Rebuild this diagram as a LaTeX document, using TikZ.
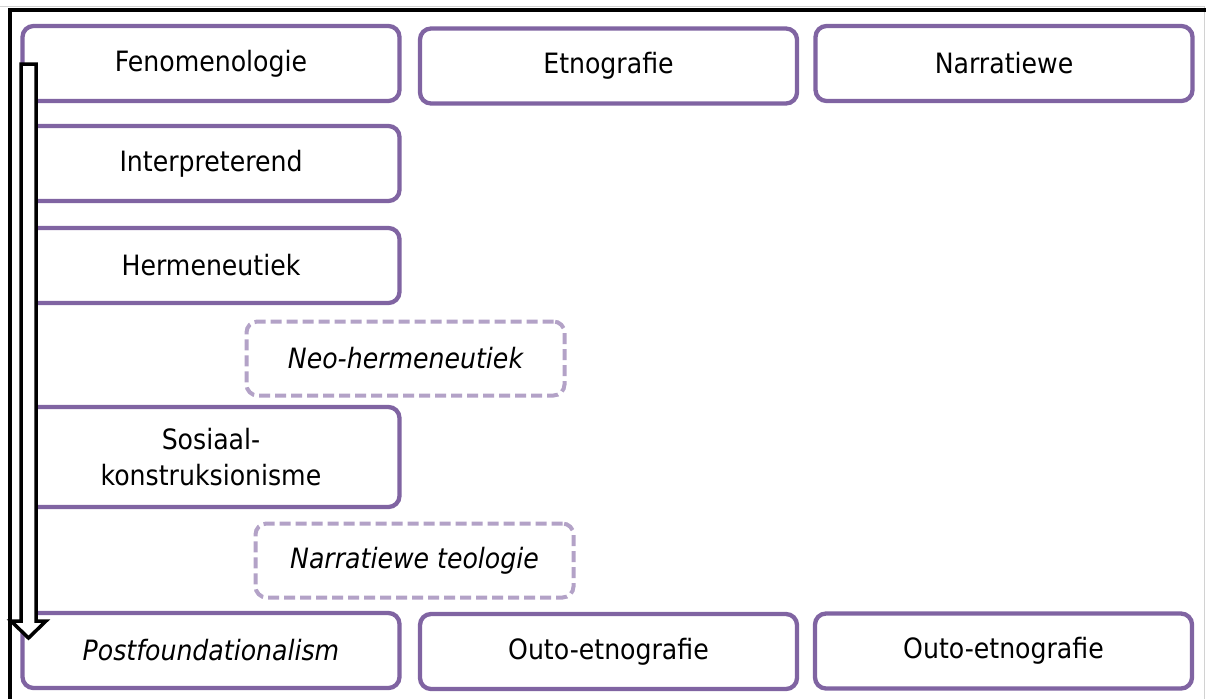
\documentclass[tikz,border=0pt]{standalone}
\usepackage{fontspec}
\setmainfont{DejaVu Sans Condensed}
\usepackage{xcolor}
\usepackage{tikz}
\definecolor{paars}{HTML}{8064A2}
\definecolor{liggpaars}{HTML}{B3A2C7}

\begin{document}
\begin{tikzpicture}[x=1pt,y=-1pt,
  blok/.style={draw=paars,line width=4.3pt,rounded corners=11pt,fill=white,
    minimum width=377pt,minimum height=75pt,inner sep=0pt,align=center,
    font=\fontsize{28}{36}\selectfont},
  stippel/.style={blok,draw=liggpaars,line width=4pt,dash pattern=on 11pt off 5pt,
    minimum width=318pt,minimum height=74pt,font=\fontsize{28}{36}\selectfont\itshape}]
\useasboundingbox (0,0) rectangle (1206,699);
\clip (0,0) rectangle (1206,699);
  \draw[gray!35,line width=1pt] (0,6) -- (1204,6) -- (1204,699);
  \draw[line width=4pt] (1206,10) -- (10,10) -- (10,699);
% top row
  \node[blok] (fen) at (211,63.5) {Fenomenologie};
  \node[blok] (etn) at (608.5,66) {Etnografie};
  \node[blok] (nar) at (1004,63.5) {Narratiewe};
% left column
  \node[blok] (int) at (211,163.5) {Interpreterend};
  \node[blok] (her) at (211,265.5) {Hermeneutiek};
  \node[stippel] (neo) at (405.5,358.5) {Neo-hermeneutiek};
  \node[blok,minimum height=100pt] (sos) at (211,457) {Sosiaal-\\konstruksionisme};
  \node[stippel] (nte) at (414.5,560.5) {Narratiewe teologie};
% bottom row
  \node[blok,font=\fontsize{28}{36}\selectfont\itshape] (pos) at (211,650.5) {Postfoundationalism};
  \node[blok] (out1) at (608.5,651.5) {Outo-etnografie};
  \node[blok] (out2) at (1003.5,651) {Outo-etnografie};
% big arrow
  \filldraw[fill=white,draw=black,line width=3.5pt,line join=miter]
    (21,64) -- (36,64) -- (36,621) -- (46,621) -- (28.5,638) -- (11,621) -- (21,621) -- cycle;
\end{tikzpicture}
\end{document}
